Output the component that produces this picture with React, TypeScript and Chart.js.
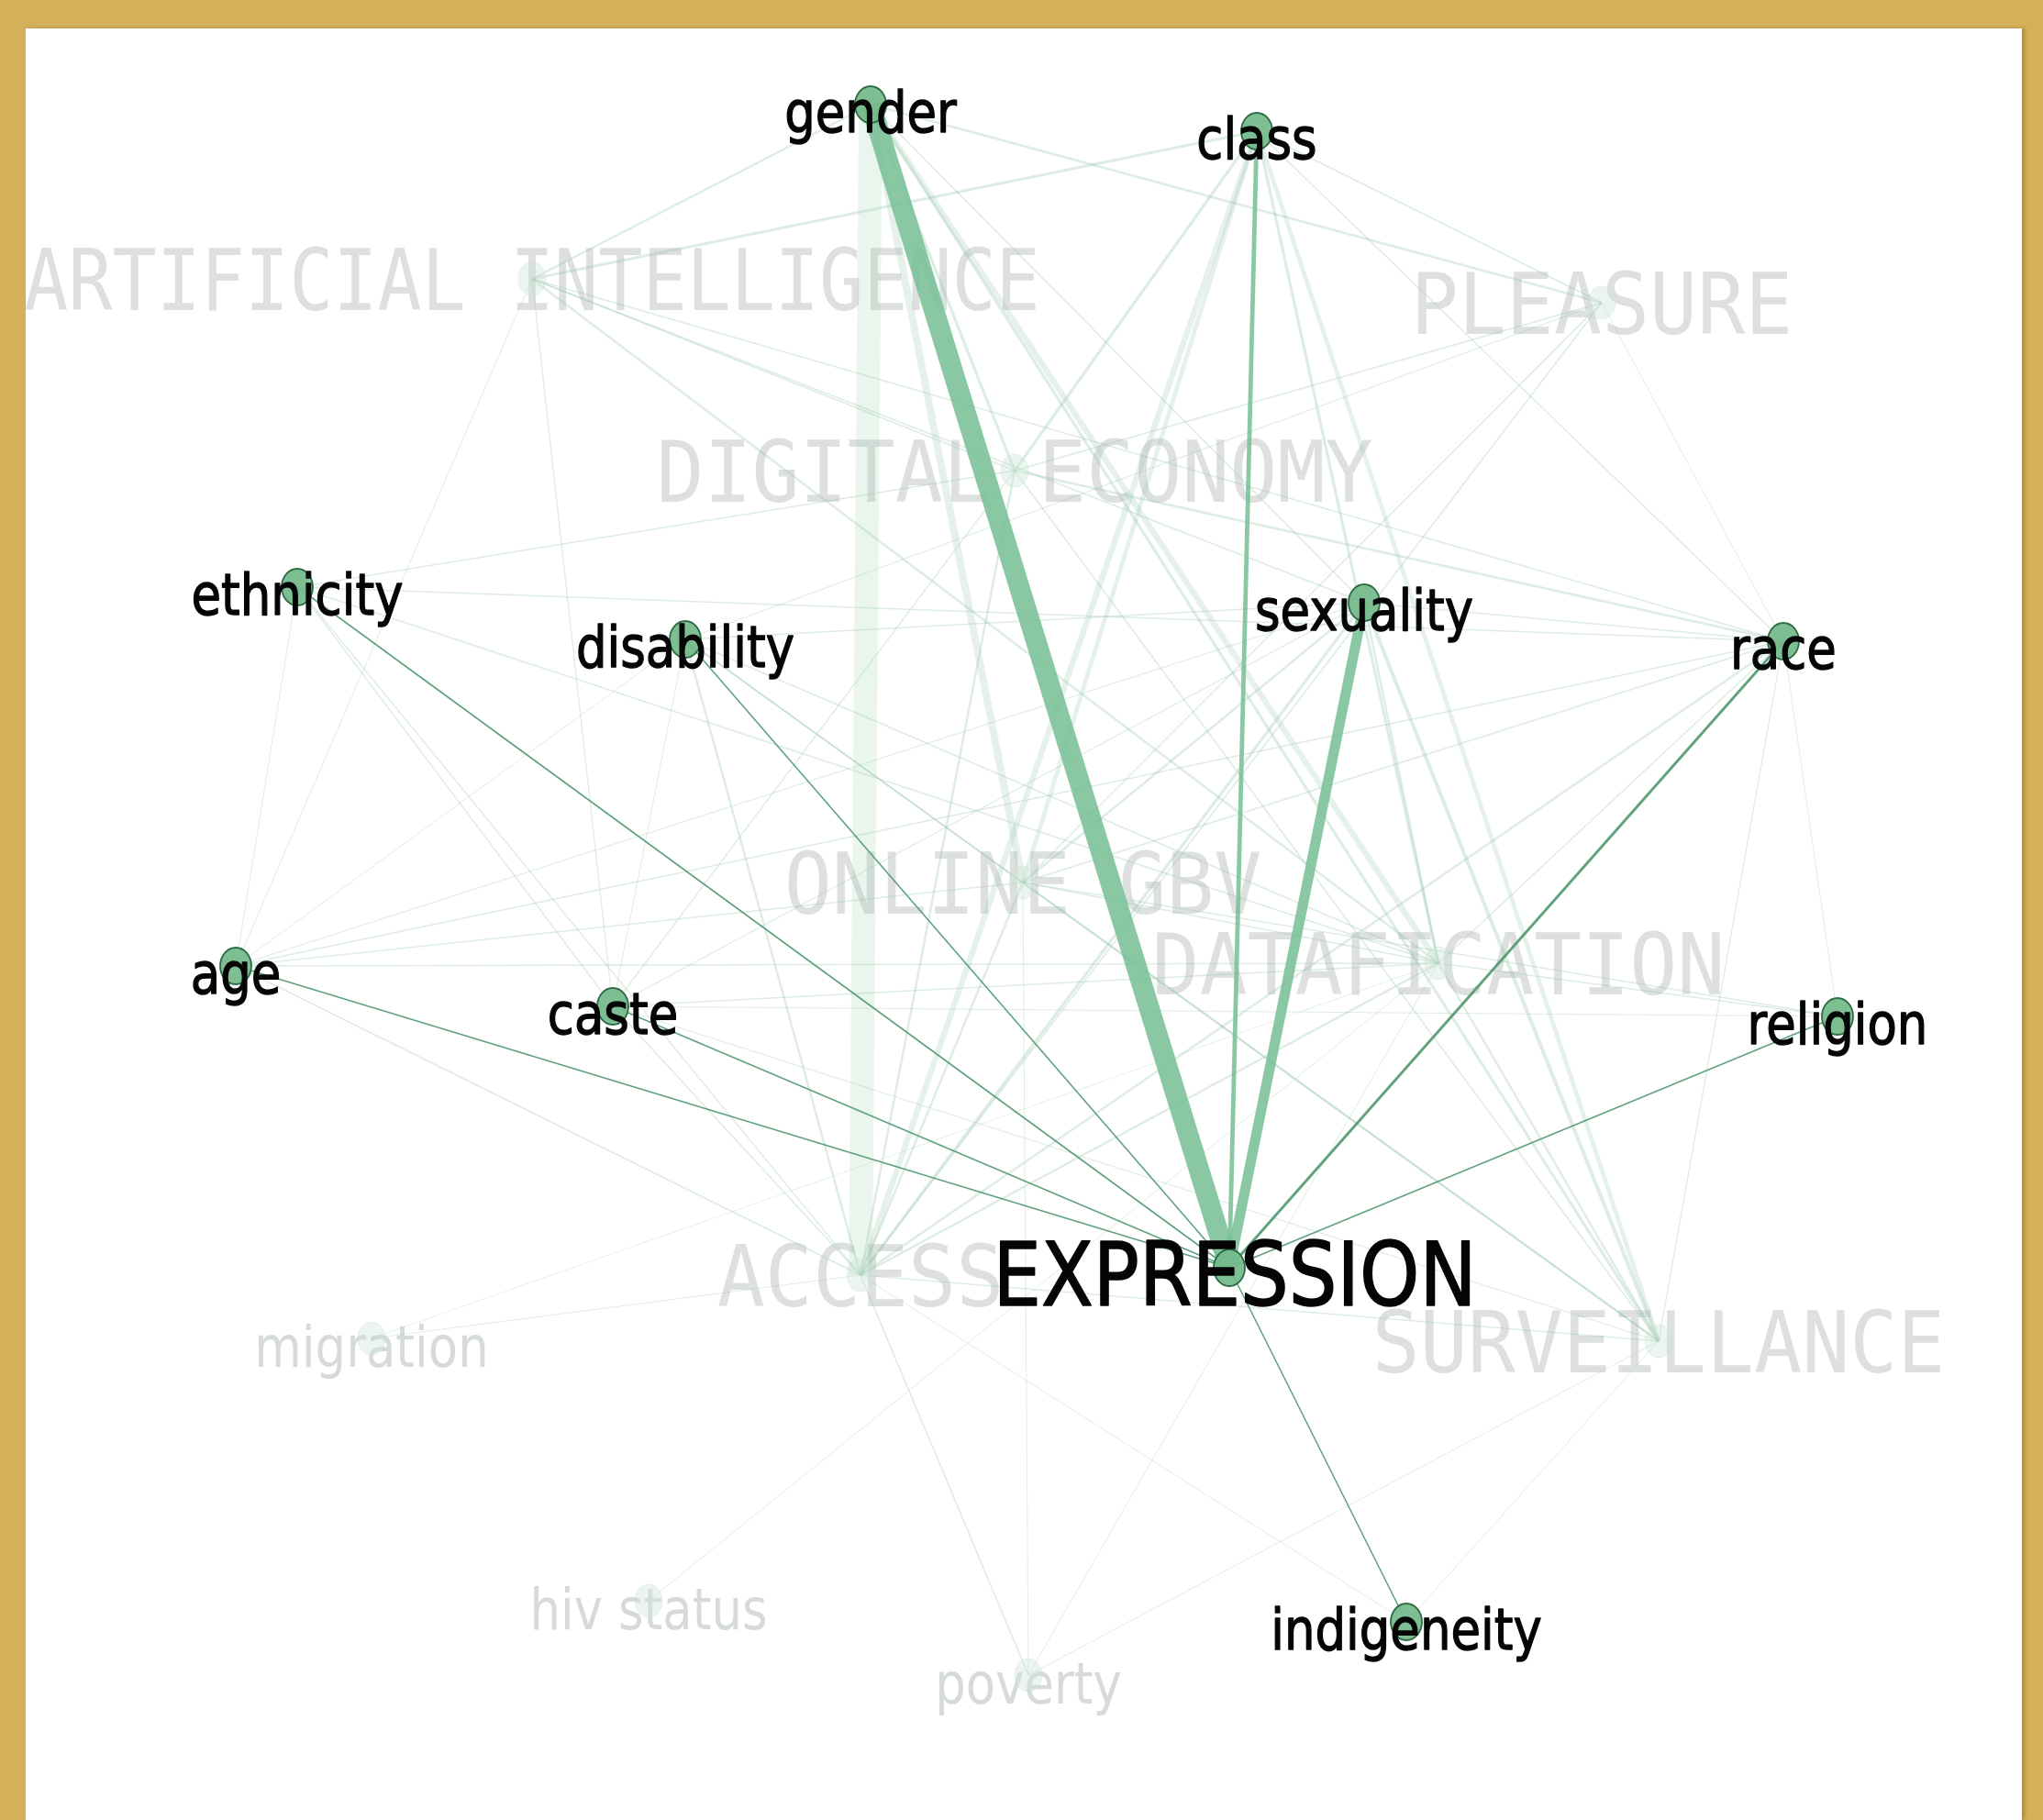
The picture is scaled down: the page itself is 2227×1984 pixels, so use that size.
import React, { useEffect, useRef } from "react";
import { Chart, registerables } from "chart.js";

Chart.register(...registerables);

// ---------- DATA ----------
const nodeNames = [
  "gender", "class", "ethnicity", "disability", "sexuality", "race", "age", "caste", "religion",
  "EXPRESSION", "indigeneity",
  "ARTIFICIAL INTELLIGENCE", "PLEASURE", "DIGITAL ECONOMY", "ONLINE GBV", "DATAFICATION", "ACCESS", "SURVEILLANCE",
  "migration", "hiv status", "poverty",
];
const nodeX = [949, 1370, 324, 747, 1487, 1944, 257, 668, 2003, 1340, 1533, 580, 1746, 1106, 1115, 1568, 938, 1808, 405, 707, 1121];
const nodeY = [114, 143, 640, 697, 657, 699, 1053, 1097, 1108, 1382, 1768, 304, 330, 513, 962, 1050, 1390, 1462, 1459, 1745, 1826];
// kind: focus = selected node, attr = neighbour, topic = faded theme, faint = faded attribute
const nodeKinds = [
  "attr", "attr", "attr", "attr", "attr", "attr", "attr", "attr", "attr",
  "focus", "attr",
  "topic", "topic", "topic", "topic", "topic", "topic", "topic",
  "faint", "faint", "faint",
];

const edgeFrom = [
  "EXPRESSION", "EXPRESSION", "EXPRESSION", "EXPRESSION", "EXPRESSION", "EXPRESSION", "EXPRESSION", "EXPRESSION", "EXPRESSION", "EXPRESSION",
  "gender", "gender", "gender", "gender", "gender", "gender", "gender", "gender",
  "class", "class", "class", "class", "class", "class", "class", "class",
  "ARTIFICIAL INTELLIGENCE", "ARTIFICIAL INTELLIGENCE", "ARTIFICIAL INTELLIGENCE", "ARTIFICIAL INTELLIGENCE", "ARTIFICIAL INTELLIGENCE", "ARTIFICIAL INTELLIGENCE",
  "PLEASURE", "PLEASURE", "PLEASURE", "PLEASURE", "PLEASURE",
  "DIGITAL ECONOMY", "DIGITAL ECONOMY", "DIGITAL ECONOMY", "DIGITAL ECONOMY", "DIGITAL ECONOMY",
  "ethnicity", "ethnicity", "ethnicity", "ethnicity", "ethnicity",
  "disability", "disability", "disability", "disability", "disability", "disability",
  "sexuality", "sexuality", "sexuality", "sexuality", "sexuality", "sexuality", "sexuality",
  "race", "race", "race", "race", "race", "race",
  "religion", "religion", "religion",
  "age", "age", "age", "age",
  "caste", "caste", "caste",
  "ONLINE GBV", "ONLINE GBV", "ONLINE GBV", "ONLINE GBV",
  "DATAFICATION", "DATAFICATION",
  "ACCESS", "ACCESS", "ACCESS", "ACCESS",
  "hiv status", "poverty", "poverty", "indigeneity", "migration",
];
const edgeTo = [
  "gender", "sexuality", "class", "race", "ethnicity", "disability", "age", "caste", "religion", "indigeneity",
  "ACCESS", "ONLINE GBV", "DATAFICATION", "SURVEILLANCE", "ARTIFICIAL INTELLIGENCE", "PLEASURE", "DIGITAL ECONOMY", "sexuality",
  "ACCESS", "ONLINE GBV", "DIGITAL ECONOMY", "DATAFICATION", "SURVEILLANCE", "ARTIFICIAL INTELLIGENCE", "PLEASURE", "race",
  "DIGITAL ECONOMY", "DATAFICATION", "race", "caste", "age", "sexuality",
  "ACCESS", "ONLINE GBV", "race", "DIGITAL ECONOMY", "disability",
  "ethnicity", "race", "ACCESS", "SURVEILLANCE", "caste",
  "race", "DATAFICATION", "age", "ACCESS", "caste",
  "ACCESS", "ONLINE GBV", "DATAFICATION", "SURVEILLANCE", "sexuality", "caste",
  "ACCESS", "ONLINE GBV", "DATAFICATION", "SURVEILLANCE", "race", "age", "caste",
  "ACCESS", "ONLINE GBV", "DATAFICATION", "SURVEILLANCE", "age", "religion",
  "DATAFICATION", "ONLINE GBV", "caste",
  "ACCESS", "DATAFICATION", "ONLINE GBV", "disability",
  "ACCESS", "DATAFICATION", "SURVEILLANCE",
  "ACCESS", "DATAFICATION", "SURVEILLANCE", "poverty",
  "SURVEILLANCE", "ACCESS",
  "SURVEILLANCE", "poverty", "indigeneity", "migration",
  "DATAFICATION", "SURVEILLANCE", "DATAFICATION", "SURVEILLANCE", "DATAFICATION",
];
const edgeWeight = [
  14, 7, 3, 1.8, 1, 1, 1, 1, 1, 1,
  16, 5, 4, 2, 1.5, 1.5, 2, 1,
  4, 3, 2, 2, 3, 2, 1, 1,
  1, 1.5, 1, 0.8, 0.6, 1,
  1, 1, 0.6, 1, 0.8,
  1, 1.5, 1.5, 1, 0.8,
  1, 1, 0.6, 0.8, 0.8,
  1.5, 1, 1, 1, 1, 0.6,
  2, 1.5, 1.5, 2.5, 1, 0.8, 0.8,
  1.5, 1, 1, 0.8, 0.8, 0.6,
  1, 0.8, 0.6,
  1, 0.8, 0.8, 0.6,
  1, 0.8, 0.8,
  1.5, 1, 1.5, 0.6,
  1.5, 1.5,
  1, 1, 0.6, 0.6,
  0.6, 0.6, 0.6, 0.6, 0.5,
];

const FOCUS = "EXPRESSION";

// ---------- STYLE ----------
const GOLD = "#D5B05A";
const WIDTH_PER_WEIGHT = 1.6;
const TEXT_SQUEEZE = 0.84;
const topicSqueeze: Record<string, number> = {
  "ARTIFICIAL INTELLIGENCE": 0.86,
};

function ellipseSprite(rx: number, ry: number, fill: string, stroke: string, lw: number) {
  const c = document.createElement("canvas");
  c.width = Math.ceil(2 * rx + 2 * lw + 2);
  c.height = Math.ceil(2 * ry + 2 * lw + 2);
  const g = c.getContext("2d")!;
  g.beginPath();
  g.ellipse(c.width / 2, c.height / 2, rx, ry, 0, 0, Math.PI * 2);
  g.fillStyle = fill;
  g.fill();
  if (lw > 0) {
    g.lineWidth = lw;
    g.strokeStyle = stroke;
    g.stroke();
  }
  return c;
}

export default function App() {
  const ref = useRef<HTMLCanvasElement | null>(null);

  useEffect(() => {
    document.body.style.margin = "0";
    const canvas = ref.current;
    if (!canvas) return;

    const idx = (n: string) => nodeNames.indexOf(n);

    const edgeSets = edgeFrom.map((f, i) => {
      const a = idx(f);
      const b = idx(edgeTo[i]);
      const hl = f === FOCUS || edgeTo[i] === FOCUS;
      const w = edgeWeight[i] * WIDTH_PER_WEIGHT;
      let color: string;
      if (hl) color = w < 3.5 ? "rgba(78,152,110,0.9)" : "rgba(118,190,148,0.85)";
      else color = w > 10 ? "rgba(150,205,170,0.2)" : w > 4 ? "rgba(150,200,170,0.25)" : "rgba(150,195,170,0.32)";
      return {
        data: [
          { x: nodeX[a], y: nodeY[a] },
          { x: nodeX[b], y: nodeY[b] },
        ],
        showLine: true,
        borderColor: color,
        backgroundColor: color,
        borderWidth: w,
        pointRadius: 0,
        pointHoverRadius: 0,
        fill: false,
        tension: 0,
        order: hl ? 2 : 3,
      };
    });

    const strongSprite = ellipseSprite(17, 20, "rgba(118,186,140,0.95)", "#2E6B45", 1.8);
    const faintSprite = ellipseSprite(15, 18, "rgba(205,228,214,0.4)", "rgba(200,220,208,0.3)", 1);

    const nodeSet = {
      data: nodeNames.map((_, i) => ({ x: nodeX[i], y: nodeY[i] })),
      pointStyle: nodeKinds.map((k) => (k === "attr" || k === "focus" ? strongSprite : faintSprite)),
      pointRadius: 20,
      showLine: false,
      order: 1,
    };

    const labelPlugin = {
      id: "nodeLabels",
      beforeDatasetsDraw(chart: any) {
        const { ctx, scales } = chart;
        nodeNames.forEach((name, i) => {
          const k = nodeKinds[i];
          if (k !== "topic" && k !== "faint") return;
          const px = scales.x.getPixelForValue(nodeX[i]);
          const py = scales.y.getPixelForValue(nodeY[i]);
          ctx.save();
          ctx.textAlign = "center";
          ctx.textBaseline = "alphabetic";
          if (k === "topic") {
            ctx.font = "93px 'DejaVu Sans Mono'";
            ctx.fillStyle = "rgba(222,224,224,1)";
            const sq = topicSqueeze[name] ?? 0.93;
            ctx.translate(px, py + 34);
            ctx.scale(sq, 1);
          } else {
            ctx.font = "63px 'DejaVu Sans'";
            ctx.fillStyle = "rgba(214,218,218,1)";
            ctx.translate(px, py + 31);
            ctx.scale(TEXT_SQUEEZE, 1);
          }
          ctx.fillText(name, 0, 0);
          ctx.restore();
        });
      },
      afterDatasetsDraw(chart: any) {
        const { ctx, scales } = chart;
        nodeNames.forEach((name, i) => {
          const k = nodeKinds[i];
          if (k !== "attr" && k !== "focus") return;
          const px = scales.x.getPixelForValue(nodeX[i]);
          const py = scales.y.getPixelForValue(nodeY[i]);
          ctx.save();
          ctx.textAlign = "center";
          ctx.textBaseline = "alphabetic";
          ctx.fillStyle = "#050505";
          ctx.strokeStyle = "#050505";
          ctx.lineJoin = "round";
          if (k === "focus") {
            ctx.font = "96px 'DejaVu Sans'";
            ctx.translate(px + 6, py + 41);
            ctx.scale(0.865, 1);
            ctx.lineWidth = 1.6;
          } else {
            ctx.font = "63px 'DejaVu Sans'";
            ctx.translate(px, py + 30);
            ctx.scale(TEXT_SQUEEZE, 1);
            ctx.lineWidth = 1.4;
          }
          ctx.fillText(name, 0, 0);
          ctx.strokeText(name, 0, 0);
          ctx.restore();
        });
      },
    };

    const chart = new Chart(canvas, {
      type: "scatter",
      data: { datasets: [...edgeSets, nodeSet] as any },
      options: {
        animation: false,
        responsive: false,
        devicePixelRatio: 1,
        events: [],
        layout: { padding: 0, autoPadding: false },
        scales: {
          x: { type: "linear", min: 28, max: 2204, display: false },
          y: { type: "linear", min: 31, max: 1984, reverse: true, display: false },
        },
        plugins: { legend: { display: false }, tooltip: { enabled: false } },
      },
      plugins: [labelPlugin],
    });
    return () => chart.destroy();
  }, []);

  return (
    <div style={{ position: "relative", width: 2227, height: 1984, background: GOLD, overflow: "hidden" }}>
      <div
        style={{
          position: "absolute",
          left: 28,
          top: 31,
          width: 2176,
          height: 1953,
          background: "#ffffff",
          boxShadow: "3px 0 4px rgba(90,70,20,0.35)",
        }}
      >
        <canvas ref={ref} width={2176} height={1953} style={{ display: "block", width: 2176, height: 1953 }} />
      </div>
    </div>
  );
}
